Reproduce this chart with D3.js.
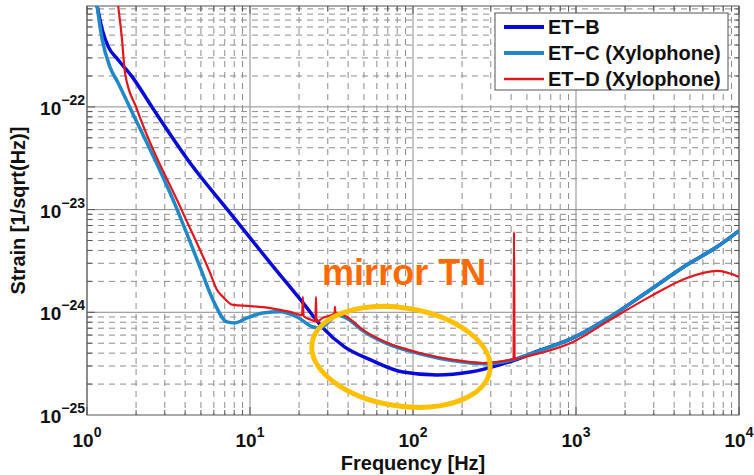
<!DOCTYPE html>
<html>
<head>
<meta charset="utf-8">
<script src="https://cdn.jsdelivr.net/npm/d3@7"></script>
<style>
  body { margin: 0; background: #fff; }
  text { font-family: "Liberation Sans", Arial, sans-serif; font-weight: bold; fill: #111; }
</style>
</head>
<body>
<svg id="chart" width="754" height="475"></svg>
<script>
// values: frequency [Hz] and strain [1/sqrt(Hz)]
var freqB = [1.15, 1.24, 1.35, 1.55, 1.89, 2.5, 4.28, 7.54, 13.3, 21.1, 28.0, 38.0, 55.0, 86.9, 140, 224, 357, 440, 545, 959, 1617, 2844, 4798, 7330, 10000];
var strainB = [9.9e-22, 5.65e-22, 3.86e-22, 2.88e-22, 1.97e-22, 1.0e-22, 2.86e-23, 9.3e-24, 3.03e-24, 1.24e-24, 7.05e-25, 4.6e-25, 3.44e-25, 2.62e-25, 2.45e-25, 2.62e-25, 3.15e-25, 3.5e-25, 4.02e-25, 5.63e-25, 9.0e-25, 1.65e-24, 2.9e-24, 4.34e-24, 6.21e-24];

var freqC = [1.15, 1.24, 1.38, 1.55, 1.86, 3.37, 4.93, 5.93, 7.22, 8.09, 9.59, 12.0, 15.3, 19.4, 24.4, 26.9, 30, 34.2, 39.4, 49.3, 69.3, 110, 176, 269, 394, 545, 959, 1617, 2844, 4798, 7330, 10000];
var strainC = [9.9e-22, 4.52e-22, 2.47e-22, 1.72e-22, 9.4e-23, 1.25e-23, 2.77e-24, 1.32e-24, 8.06e-25, 7.88e-25, 8.82e-25, 9.86e-25, 1.01e-24, 9.0e-25, 7.2e-25, 7.05e-25, 7.9e-25, 9.4e-25, 8.7e-25, 6.6e-25, 4.95e-25, 3.95e-25, 3.38e-25, 3.15e-25, 3.4e-25, 4.02e-25, 5.63e-25, 9.0e-25, 1.65e-24, 2.9e-24, 4.34e-24, 6.21e-24];

var freqD = [1.55, 1.64, 1.71, 2.03, 3.88, 5.69, 6.28, 6.83, 7.87, 10, 13.3, 17.6, 20.9, 21.1, 21.3, 24.4, 25.2, 25.4, 25.6, 28.0, 33.0, 33.2, 33.4, 34.2, 39.4, 49.3, 69.3, 110, 176, 269, 394, 414, 417, 420, 545, 959, 1617, 2844, 4798, 7330, 10000];
var strainD = [9.9e-22, 4.52e-22, 2.15e-22, 9.4e-23, 9.3e-24, 2.42e-24, 1.65e-24, 1.41e-24, 1.18e-24, 1.15e-24, 1.10e-24, 1.01e-24, 9.4e-25, 1.41e-24, 9.2e-25, 8.3e-25, 8.1e-25, 1.41e-24, 8.1e-25, 8.82e-25, 9.7e-25, 1.13e-24, 9.8e-25, 9.86e-25, 9.0e-25, 6.73e-25, 5.04e-25, 4.02e-25, 3.44e-25, 3.21e-25, 3.44e-25, 3.5e-25, 6.08e-24, 3.52e-25, 3.85e-25, 5.15e-25, 8.43e-25, 1.42e-24, 2.16e-24, 2.53e-24, 2.21e-24];

var seriesNames = ["ET\u2212B", "ET\u2212C (Xylophone)", "ET\u2212D (Xylophone)"];
var seriesColors = ["#0a0ad8", "#2088c6", "#e3161c"];
var seriesWidths = [3.5, 3.5, 2.2];

var xTickValues = [1, 10, 100, 1000, 10000];
var xTickExps = ["0", "1", "2", "3", "4"];
var yTickValues = [1e-25, 1e-24, 1e-23, 1e-22];
var yTickExps = ["\u221225", "\u221224", "\u221223", "\u221222"];

var xDomain = [1, 1e4],
    yDomain = [1e-25, 9.6e-22];

// annotation anchor points in data units
var noteText = "mirror TN",
    notePos = [27.7, 1.85e-24],
    ellipseCenter = [84.4, 3.68e-25];

var svg = d3.select("#chart"),
    margin = {top: 6, right: 15, bottom: 60, left: 87},
    width = 754 - margin.left - margin.right,
    height = 475 - margin.top - margin.bottom,
    g = svg.append("g").attr("transform", "translate(" + margin.left + "," + margin.top + ")");

var x = d3.scaleLog().domain(xDomain).range([0, width]);
var y = d3.scaleLog().domain(yDomain).range([height, 0]);

function isDecade(v) {
  var l = Math.log10(v);
  return Math.abs(l - Math.round(l)) < 1e-6;
}

var xAll = x.ticks(), yAll = y.ticks();

// grid
var grid = g.append("g").attr("class", "grid");
grid.selectAll("line.xg").data(xAll).enter().append("line")
    .attr("x1", function(d) { return x(d); }).attr("x2", function(d) { return x(d); })
    .attr("y1", 0).attr("y2", height)
    .attr("stroke", "#8c8c8c")
    .attr("stroke-width", 1)
    .attr("stroke-dasharray", function(d) { return isDecade(d) ? null : "6,5"; });
grid.selectAll("line.yg").data(yAll).enter().append("line")
    .attr("y1", function(d) { return y(d); }).attr("y2", function(d) { return y(d); })
    .attr("x1", 0).attr("x2", width)
    .attr("stroke", "#8c8c8c")
    .attr("stroke-width", 1)
    .attr("stroke-dasharray", function(d) { return isDecade(d) ? null : "6,5"; });

// inside ticks on all four sides
var ticks = g.append("g").attr("stroke", "#555").attr("stroke-width", 1);
xAll.forEach(function(d) {
  var len = isDecade(d) ? 8 : 5;
  ticks.append("line").attr("x1", x(d)).attr("x2", x(d)).attr("y1", height).attr("y2", height - len);
  ticks.append("line").attr("x1", x(d)).attr("x2", x(d)).attr("y1", 0).attr("y2", len);
});
yAll.forEach(function(d) {
  var len = isDecade(d) ? 8 : 5;
  ticks.append("line").attr("y1", y(d)).attr("y2", y(d)).attr("x1", 0).attr("x2", len);
  ticks.append("line").attr("y1", y(d)).attr("y2", y(d)).attr("x1", width).attr("x2", width - len);
});

g.append("rect").attr("width", width).attr("height", height)
    .attr("fill", "none").attr("stroke", "#555").attr("stroke-width", 1);

// curves
g.append("clipPath").attr("id", "clip")
  .append("rect").attr("width", width).attr("height", height);

var line = d3.line()
    .x(function(d) { return x(d[0]); })
    .y(function(d) { return y(d[1]); })
    .curve(d3.curveMonotoneX);

var series = [d3.zip(freqB, strainB), d3.zip(freqC, strainC), d3.zip(freqD, strainD)];

g.append("g").attr("clip-path", "url(#clip)")
  .selectAll("path")
  .data(series)
  .enter().append("path")
    .attr("d", line)
    .attr("fill", "none")
    .attr("stroke", function(d, i) { return seriesColors[i]; })
    .attr("stroke-width", function(d, i) { return seriesWidths[i]; })
    .attr("stroke-linejoin", "round");

// tick labels
xTickValues.forEach(function(v, i) {
  var t = g.append("text").attr("x", x(v)).attr("y", height + 32)
      .attr("text-anchor", "middle").style("font-size", "19px");
  t.append("tspan").text("10");
  t.append("tspan").attr("dy", -10).style("font-size", "14px").text(xTickExps[i]);
});
yTickValues.forEach(function(v, i) {
  var t = g.append("text").attr("x", -2).attr("y", y(v) + 8)
      .attr("text-anchor", "end").style("font-size", "19px");
  t.append("tspan").text("10");
  t.append("tspan").attr("dy", -10).style("font-size", "14px").text(yTickExps[i]);
});

// axis titles
g.append("text").attr("x", width / 2).attr("y", height + 55)
    .attr("text-anchor", "middle").style("font-size", "20px").text("Frequency [Hz]");
g.append("text").attr("transform", "translate(" + (-62) + "," + (height / 2) + ") rotate(-90)")
    .attr("text-anchor", "middle").style("font-size", "20px").text("Strain [1/sqrt(Hz)]");

// annotation
g.append("ellipse")
    .attr("transform", "translate(" + x(ellipseCenter[0]) + "," + y(ellipseCenter[1]) + ") rotate(9)")
    .attr("rx", 90).attr("ry", 49)
    .attr("fill", "none").attr("stroke", "#ffc000").attr("stroke-width", 5);
g.append("text").attr("x", x(notePos[0])).attr("y", y(notePos[1]))
    .style("font-size", "36px").style("fill", "#ff6a00").text(noteText);

// legend
var legend = svg.append("g").attr("transform", "translate(495,13)");
legend.append("rect").attr("width", 233).attr("height", 77)
    .attr("fill", "#fff").attr("stroke", "#555").attr("stroke-width", 1);
seriesNames.forEach(function(name, i) {
  var row = legend.append("g").attr("transform", "translate(0," + (14 + i * 26) + ")");
  row.append("line").attr("x1", 9).attr("x2", 49).attr("y1", 0).attr("y2", 0)
      .attr("stroke", seriesColors[i]).attr("stroke-width", i === 2 ? 2.5 : 4);
  row.append("text").attr("x", 53).attr("y", 7).style("font-size", "20px").text(name);
});
</script>
</body>
</html>
